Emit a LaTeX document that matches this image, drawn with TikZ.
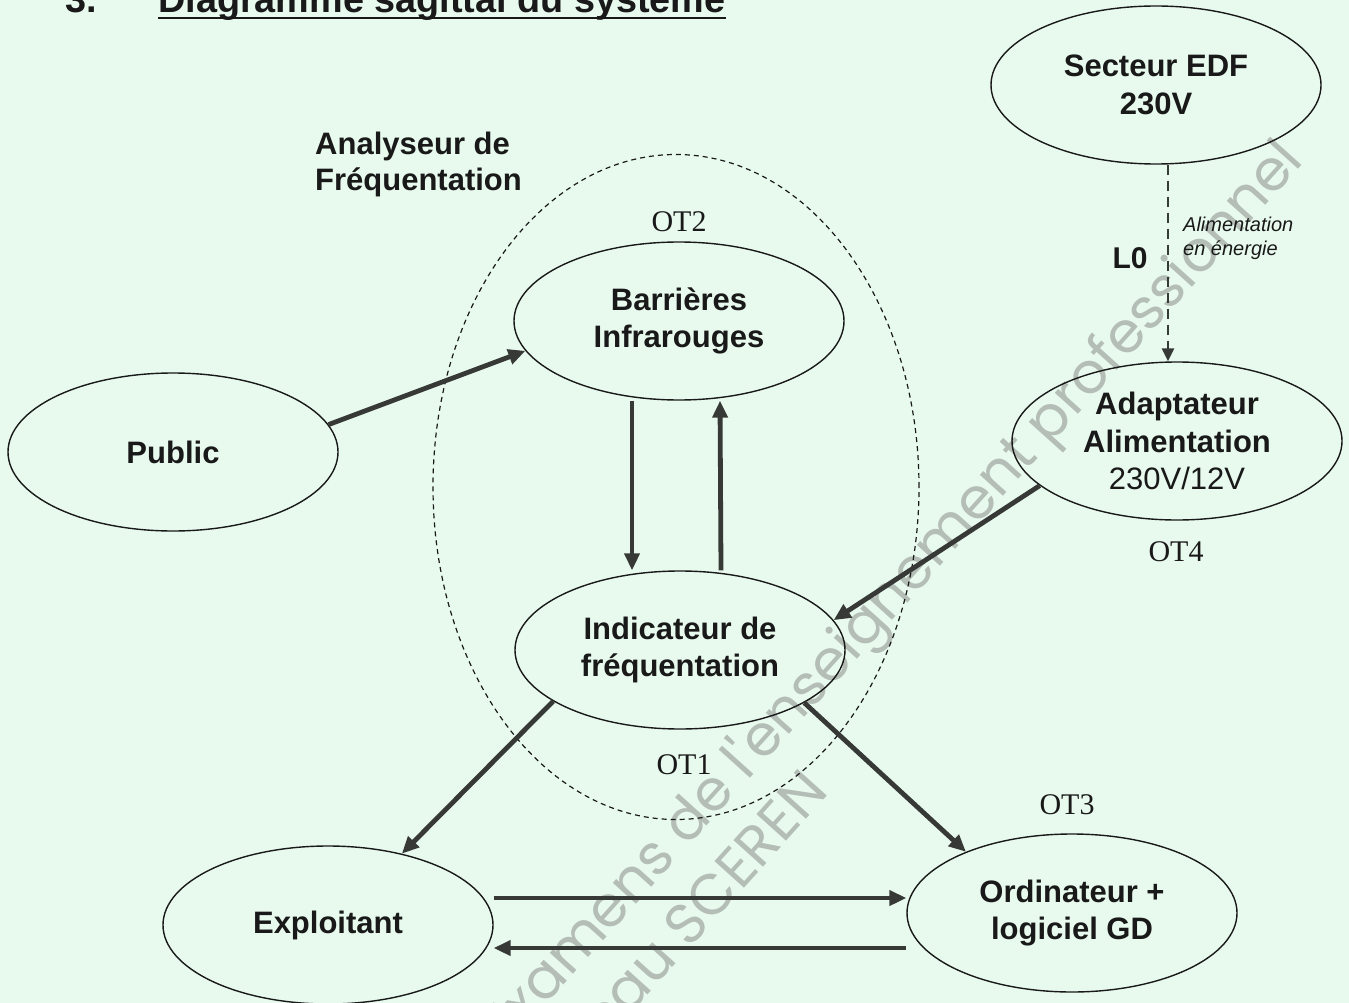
\documentclass[tikz,border=0pt]{standalone}
\usepackage{fontspec}
\setmainfont{Liberation Serif}
\newfontfamily\arialf{Liberation Sans}
\newfontfamily\wmfont{Poppins}
\usetikzlibrary{shapes.geometric,arrows.meta}
\definecolor{bgc}{RGB}{232,250,238}
\definecolor{arrc}{RGB}{55,57,55}
\definecolor{wmc}{RGB}{180,190,182}
\definecolor{linec}{RGB}{25,25,25}
\begin{document}
\begin{tikzpicture}[x=1pt,y=-1pt,
  blob/.style={ellipse, draw=linec, line width=1.4pt, minimum width=330pt, minimum height=158pt,
    inner sep=0pt, align=center, font=\arialf\bfseries\fontsize{31}{37.5}\selectfont, text=linec},
  flow/.style={draw=arrc, line width=4.8pt, -{Triangle[length=17pt,width=15pt]}},
  ot/.style={font=\fontsize{30}{36}\selectfont, text=linec, inner sep=0pt},
  wm/.style={font=\wmfont\fontsize{57}{60}\selectfont, text=wmc, rotate=48, inner sep=0pt},
  lbl/.style={font=\arialf\bfseries\fontsize{31}{36}\selectfont, text=linec, inner sep=0pt},
]
\useasboundingbox (0,0) rectangle (1349,1003);
\clip (0,0) rectangle (1349,1003);
\fill[bgc] (0,0) rectangle (1349,1003);

% watermark
\node[wm] (wm1) at (895,595) {Examens de l'enseignement professionnel};
\node[wm] (wm2) at (668,940) {Réseau SCEREN};

% title
\node[anchor=base west, inner sep=0pt, text=linec, font=\arialf\bfseries\fontsize{37.8}{40}\selectfont] (num) at (65,13) {3.};
\node[anchor=base west, inner sep=0pt, text=linec, font=\arialf\bfseries\fontsize{37.8}{40}\selectfont] (ttl) at (158,13) {Diagramme sagittal du système};
\draw[line width=2.6pt, linec] ([yshift=-5pt]ttl.base west) -- ([yshift=-5pt]ttl.base east);

% group
\node[ellipse, draw=linec, line width=1.2pt, dash pattern=on 5pt off 4pt, minimum width=486pt,
  minimum height=665pt, inner sep=0pt] (grp) at (676,487) {};
\node[lbl, anchor=west, align=left] (ana) at (315,164) {Analyseur de\\Fréquentation};

% nodes
\node[blob] (sec) at (1156,85) {Secteur EDF\\230V};
\node[blob] (pub) at (173,452) {Public};
\node[blob] (bar) at (679,321) {Barrières\\Infrarouges};
\node[blob] (ada) at (1177,441) {Adaptateur\\Alimentation\\{\mdseries 230V/12V}};
\node[blob] (ind) at (680,650) {Indicateur de\\fréquentation};
\node[blob] (exp) at (328,925) {Exploitant};
\node[blob] (ord) at (1072,913) {Ordinateur +\\logiciel GD};

% labels
\node[ot] (ot2) at (679,222) {OT2};
\node[ot] (ot1) at (684,765) {OT1};
\node[ot] (ot3) at (1067,805) {OT3};
\node[ot] (ot4) at (1176,552) {OT4};
\node[lbl, font=\arialf\bfseries\fontsize{30}{32}\selectfont] (l0) at (1130,258) {L0};
\node[anchor=west, align=left, inner sep=0pt, text=linec, font=\arialf\itshape\fontsize{20}{24}\selectfont] (alim) at (1183,238) {Alimentation\\en énergie};

% connectors
\draw[draw=arrc, line width=2.5pt, dash pattern=on 10pt off 6pt, -{Triangle[length=13pt,width=12pt]}]
  ([xshift=12pt]sec.south) -- ([xshift=-9pt]ada.north);
\draw[flow] (pub.10) -- (bar.191);
\draw[flow] ([xshift=-47pt]bar.south) -- ([xshift=-48pt]ind.north);
\draw[flow] ([xshift=41pt]ind.north) -- ([xshift=41pt]bar.south);
\draw[flow] (ada.198) -- (ind.11);
\draw[flow] (ind.202) -- (exp.44);
\draw[flow] (ind.337) -- (ord.150);
\draw[flow] ([yshift=27pt]exp.east) -- ([yshift=15pt]ord.west);
\draw[flow] ([yshift=-35pt]ord.west) -- ([yshift=-23pt]exp.east);
\end{tikzpicture}
\end{document}
